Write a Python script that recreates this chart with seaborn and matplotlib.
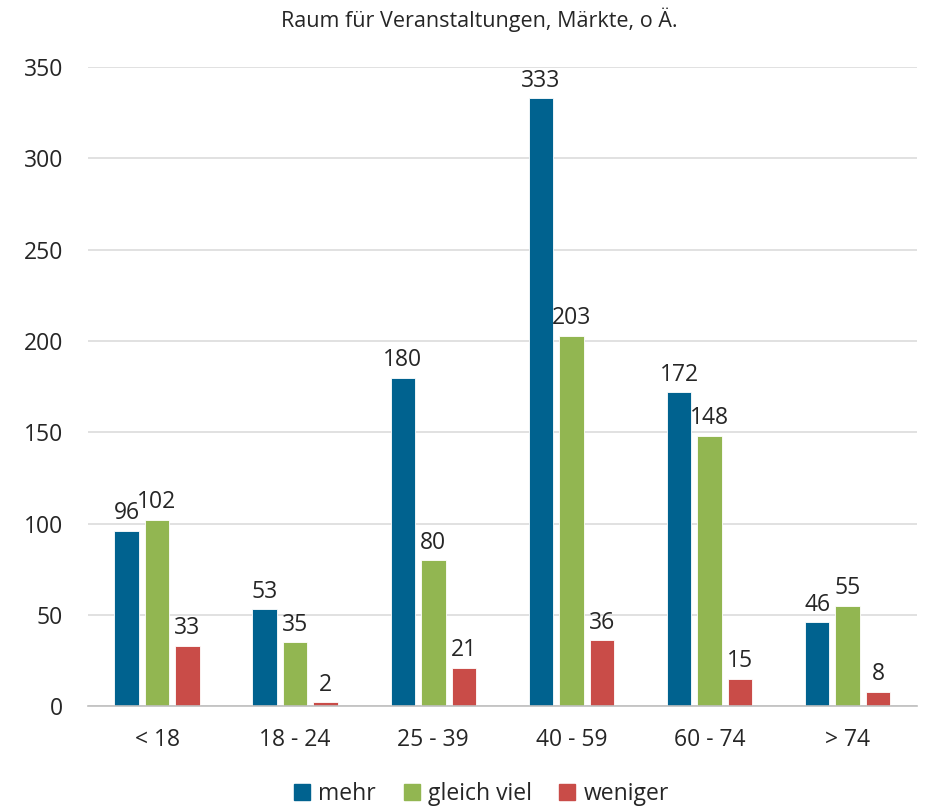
import matplotlib
matplotlib.use("Agg")
import matplotlib.pyplot as plt
import seaborn as sns
import pandas as pd

categories = ["< 18", "18 - 24", "25 - 39", "40 - 59", "60 - 74", "> 74"]
series_names = ["mehr", "gleich viel", "weniger"]
mehr = [96, 53, 180, 333, 172, 46]
gleich_viel = [102, 35, 80, 203, 148, 55]
weniger = [33, 2, 21, 36, 15, 8]
colors = ["#00628F", "#92B651", "#C94C48"]
title = "Raum für Veranstaltungen, Märkte, o Ä."

rows = []
for name, vals in zip(series_names, [mehr, gleich_viel, weniger]):
    for c, v in zip(categories, vals):
        rows.append({"Alter": c, "Serie": name, "Wert": v})
df = pd.DataFrame(rows)

sns.set_theme(style="white")
plt.rcParams["font.family"] = ["Open Sans", "DejaVu Sans"]
text_color = "#262626"

fig = plt.figure(figsize=(9.26, 8.07), dpi=100)
ax = fig.add_axes([0.095, 0.125, 0.895, 0.7918])

sns.barplot(data=df, x="Alter", y="Wert", hue="Serie", order=categories,
            hue_order=series_names, palette=colors, saturation=1,
            width=0.663, gap=0.2,
            edgecolor="white", linewidth=0.6, ax=ax, legend=True)

for cont in ax.containers:
    ax.bar_label(cont, labels=[f"{int(v)}" for v in cont.datavalues],
                 padding=4, fontsize=16.5, color=text_color)

ax.set_xlim(-0.5, 5.5)
ax.set_ylim(0, 350)
ax.set_yticks(range(0, 351, 50))
ax.yaxis.grid(True, color="#D9D9D9", linewidth=1.1)
ax.set_axisbelow(True)
for s in ["left", "right", "top"]:
    ax.spines[s].set_visible(False)
ax.spines["bottom"].set_color("#BFBFBF")
ax.spines["bottom"].set_linewidth(1.2)
ax.tick_params(axis="both", length=0, labelsize=16.5, colors=text_color)
ax.tick_params(axis="x", pad=16)
ax.tick_params(axis="y", pad=18)
ax.set_xlabel("")
ax.set_ylabel("")

ax.get_legend().remove()
handles = [plt.Rectangle((0, 0), 1, 1, color=c) for c in colors]
fig.legend(handles, series_names, loc="center", bbox_to_anchor=(0.52, 0.016),
           ncol=3, frameon=False, fontsize=16.5, handlelength=0.7,
           handleheight=0.7, handletextpad=0.35, columnspacing=1.2,
           labelcolor=text_color)

fig.text(0.518, 0.975, title, ha="center", va="center", fontsize=15.5,
         color=text_color)

fig.savefig("out.png", dpi=100)
